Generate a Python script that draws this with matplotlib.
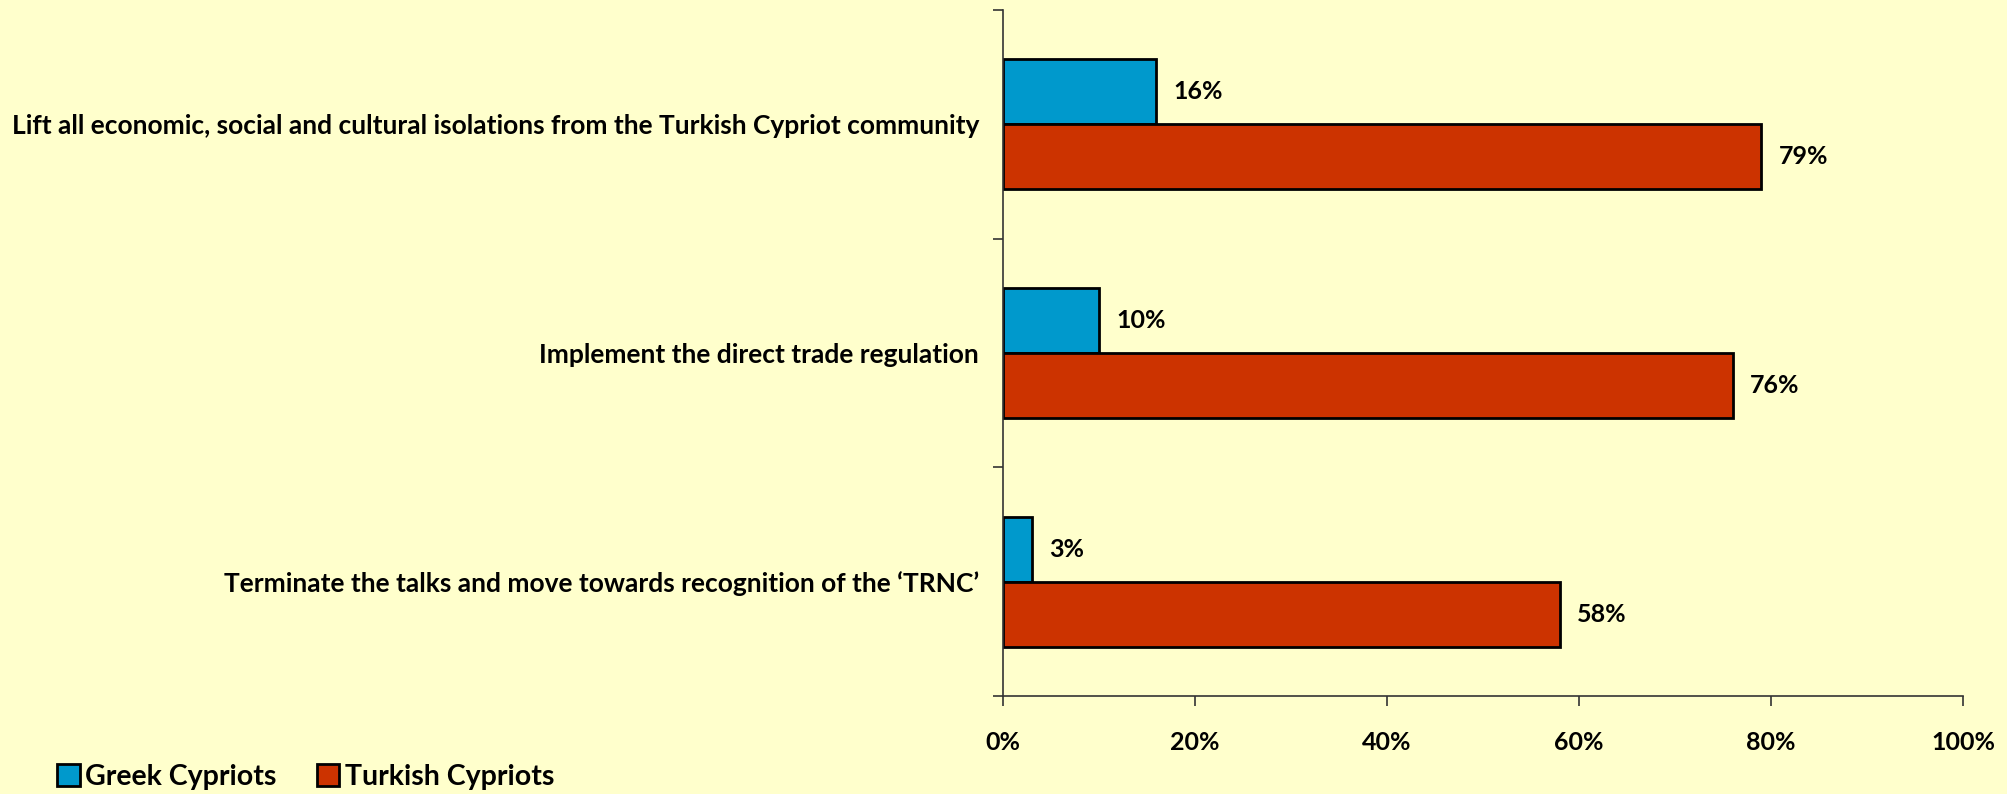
import matplotlib
matplotlib.use("Agg")
import matplotlib.pyplot as plt
from matplotlib.patches import Patch
import numpy as np

# survey responses (% agreeing), top to bottom
categories = [
    "Lift all economic, social and cultural isolations from the Turkish Cypriot community",
    "Implement the direct trade regulation",
    "Terminate the talks and move towards recognition of the \u2018TRNC\u2019",
]
greek = [16, 10, 3]
turkish = [79, 76, 58]
series_names = ["Greek Cypriots", "Turkish Cypriots"]
xticks = [0, 20, 40, 60, 80, 100]

BG = "#FFFFCC"
BLUE = "#0099CC"
RED = "#CC3300"
FONT = "Lato"
FS = 18

plt.rcParams["font.family"] = [FONT, "DejaVu Sans"]
plt.rcParams["font.weight"] = "bold"

fig = plt.figure(figsize=(20.07, 7.94), dpi=100, facecolor=BG)
ax = fig.add_axes([0.4996, 0.1234, 0.4785, 0.864])
ax.set_facecolor(BG)

y = np.arange(len(categories))
h = 0.284
ax.barh(y - h / 2, greek, height=h, color=BLUE, edgecolor="black", linewidth=2)
ax.barh(y + h / 2, turkish, height=h, color=RED, edgecolor="black", linewidth=2)

for yi, v in zip(y, greek):
    ax.text(v + 1.8, yi - h / 2, f"{v}%", va="center", ha="left",
            fontsize=FS, fontweight="bold")
for yi, v in zip(y, turkish):
    ax.text(v + 1.8, yi + h / 2, f"{v}%", va="center", ha="left",
            fontsize=FS, fontweight="bold")

ax.set_xlim(0, 100)
ax.set_ylim(len(categories) - 0.5, -0.5)
ax.set_xticks(xticks)
ax.set_xticklabels([f"{t}%" for t in xticks], fontsize=FS, fontweight="bold")

# boundaries get tick marks, category names sit on the minor ticks
ax.set_yticks(np.arange(-0.5, len(categories), 1.0))
ax.set_yticklabels([])
ax.set_yticks(y, minor=True)
ax.set_yticklabels(categories, minor=True, fontsize=FS + 1, fontweight="bold")
ax.tick_params(axis="y", which="minor", length=0, pad=17)
ax.tick_params(axis="y", which="major", length=7, width=1.2, color="#333333")
ax.tick_params(axis="x", length=7, width=1.2, color="#333333", pad=18)

for s in ("top", "right"):
    ax.spines[s].set_visible(False)
for s in ("left", "bottom"):
    ax.spines[s].set_color("#333333")
    ax.spines[s].set_linewidth(1.2)

handles = [Patch(facecolor=BLUE, edgecolor="black", linewidth=2),
           Patch(facecolor=RED, edgecolor="black", linewidth=2)]
fig.legend(handles, series_names, loc="center left",
           bbox_to_anchor=(57 / 2007, 1 - 777 / 794), ncol=2, frameon=False,
           handlelength=0.8, handleheight=0.8, handletextpad=0.2,
           columnspacing=1.4, borderaxespad=0, borderpad=0,
           prop={"family": FONT, "weight": "bold", "size": 20.5})

fig.savefig("out.png", dpi=100, facecolor=BG)
